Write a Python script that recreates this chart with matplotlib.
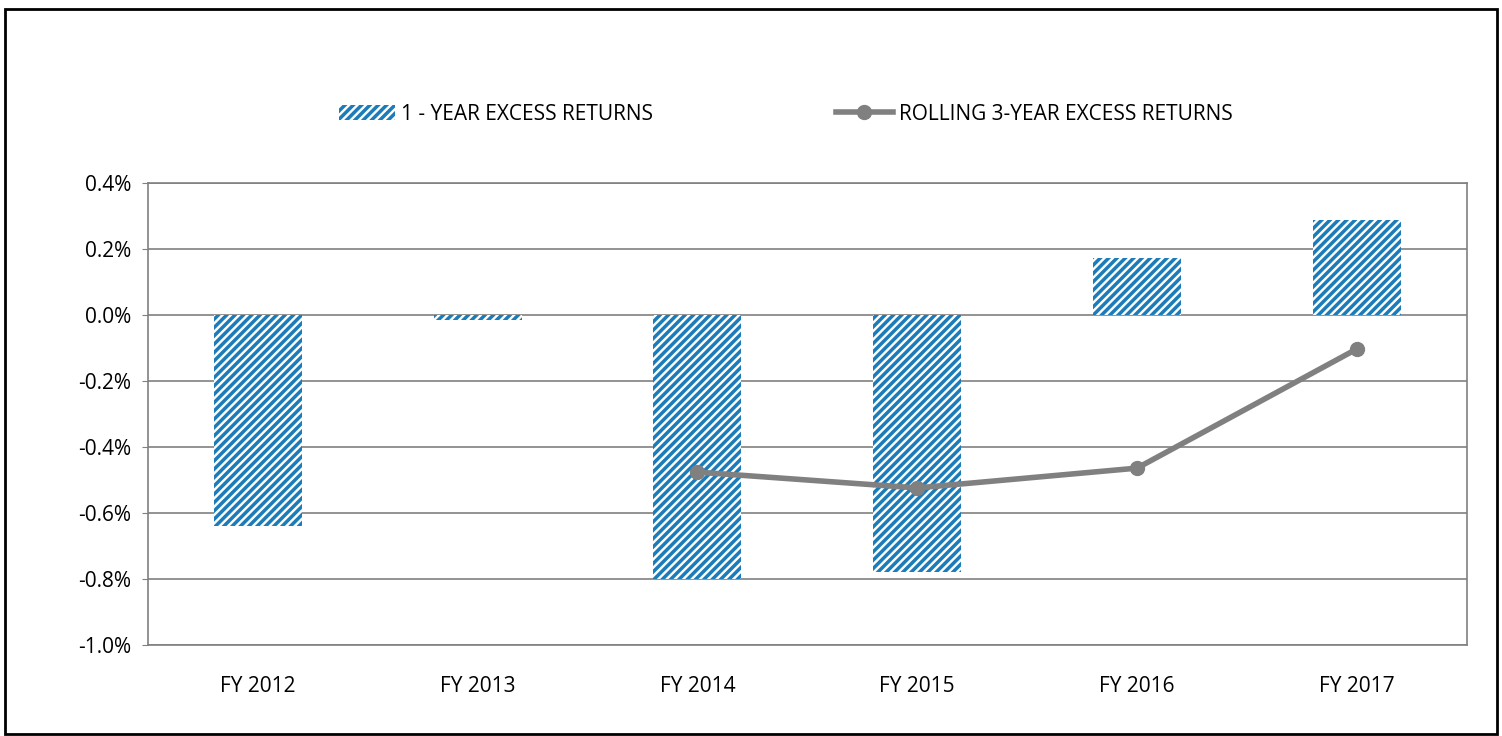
import numpy as np
import matplotlib.pyplot as plt
from matplotlib.patches import Rectangle
from matplotlib.ticker import FuncFormatter

plt.rcParams['font.family'] = ['Open Sans', 'DejaVu Sans']
plt.rcParams['hatch.linewidth'] = 2.5

years = ["FY 2012", "FY 2013", "FY 2014", "FY 2015", "FY 2016", "FY 2017"]
one_year = [-0.64, -0.015, -0.80, -0.78, 0.173, 0.288]
rolling_3yr = [np.nan, np.nan, -0.476, -0.524, -0.464, -0.103]

BLUE = "#1c7cba"
GREY = "#808080"
FS = 15

def pct(v, pos):
    v = 0.0 if abs(v) < 1e-9 else v
    return f"{v:.1f}%"

fig = plt.figure(figsize=(15.02, 7.36), dpi=100)
ax = fig.add_axes([0.0985, 0.1236, 0.878, 0.6278])

x = np.arange(len(years))
bars = ax.bar(x, one_year, width=0.4, facecolor="white", edgecolor=BLUE,
              hatch="////", linewidth=0, label="1 - YEAR EXCESS RETURNS", zorder=3)
line, = ax.plot(x, rolling_3yr, color=GREY, linewidth=4, marker="o", markersize=10,
                label="ROLLING 3-YEAR EXCESS RETURNS", zorder=4)

ax.set_xlim(-0.5, len(years) - 0.5)
ax.set_ylim(-1.0, 0.4)
ax.set_yticks(np.arange(-1.0, 0.41, 0.2))
ax.yaxis.set_major_formatter(FuncFormatter(pct))
ax.set_xticks(x)
ax.set_xticklabels(years)
ax.tick_params(axis="y", length=4, color=GREY, labelsize=FS, pad=8)
ax.tick_params(axis="x", length=0, labelsize=FS, pad=22)
ax.grid(axis="y", color=GREY, linewidth=1.2, zorder=0)
for s in ax.spines.values():
    s.set_color(GREY)
    s.set_linewidth(1.2)

fig.legend([bars, line], [bars.get_label(), line.get_label()],
           loc="center", bbox_to_anchor=(0.523, 0.845), ncol=2, frameon=False,
           fontsize=FS, columnspacing=8.8, handlelength=2.7, handletextpad=0.3)

fig.patches.append(Rectangle((0.003, 0.003), 0.994, 0.985, transform=fig.transFigure,
                             fill=False, edgecolor="black", linewidth=2))

fig.savefig("out.png", dpi=100)
